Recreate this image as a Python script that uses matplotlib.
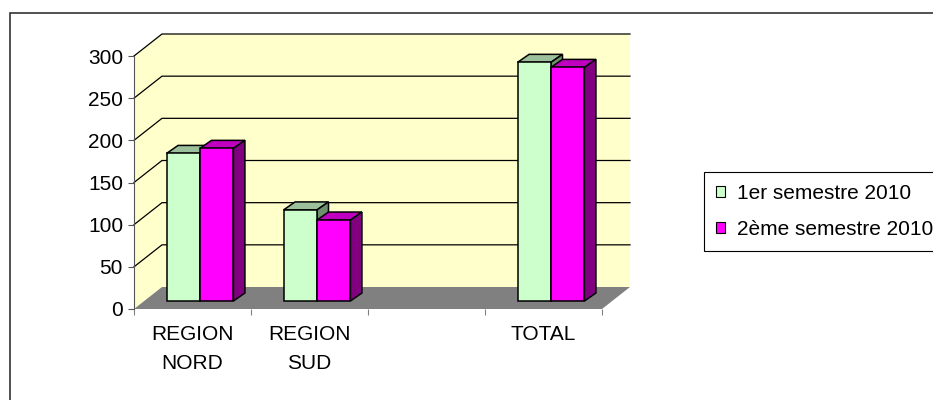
import matplotlib
matplotlib.use("Agg")
import matplotlib.pyplot as plt
from matplotlib.patches import Rectangle, Polygon, Patch
import numpy as np

# ---- data ----
categories = ["REGION\nNORD", "REGION\nSUD", "", "TOTAL"]
series_names = ["1er semestre 2010", "2ème semestre 2010"]
semestre1 = [175, 108, None, 283]
semestre2 = [181, 96, None, 277]
yticks = [0, 50, 100, 150, 200, 250, 300]

# ---- style ----
W, H, DPI = 933, 400, 100
plt.rcParams["font.family"] = ["Liberation Sans", "DejaVu Sans"]
FS = 15
WALL = "#FFFFCC"
FLOOR = "#808080"
COLORS = [("#CCFFCC", "#9CBF9C", "#6E8F6E"),   # front, top, side
          ("#FF00FF", "#C000C0", "#800080")]

fig = plt.figure(figsize=(W / DPI, H / DPI), dpi=DPI)
fig.patch.set_facecolor("white")

# front plane of the 3-D box, in pixels
ax_left, ax_right, ax_top, ax_bottom = 134, 602, 56, 309
ax = fig.add_axes([ax_left / W, (H - ax_bottom) / H,
                   (ax_right - ax_left) / W, (ax_bottom - ax_top) / H])
n = len(categories)
ymax = yticks[-1]
ax.set_xlim(0, n)
ax.set_ylim(0, ymax)
ax.patch.set_visible(False)

px_x = (ax_right - ax_left) / n
px_y = (ax_bottom - ax_top) / ymax


def off(dx_px, dy_px):
    """pixel offset -> data offset"""
    return dx_px / px_x, dy_px / px_y


wx, wy = off(28, 22)      # depth of the walls
fx, fy = off(7.5, 8)      # bars sit a little behind the front plane
dx, dy = off(11.5, 8)     # depth of each bar

# walls
ax.add_patch(Polygon([(wx, wy), (n + wx, wy), (n + wx, ymax + wy), (wx, ymax + wy)],
                     closed=True, fc=WALL, ec="none", zorder=0, clip_on=False))
ax.add_patch(Polygon([(0, 0), (wx, wy), (wx, ymax + wy), (0, ymax)],
                     closed=True, fc=WALL, ec="none", zorder=0, clip_on=False))
for v in yticks[1:]:
    ax.plot([0, wx, n + wx], [v, v + wy, v + wy], color="black", lw=0.9,
            zorder=0.5, clip_on=False)
# floor
ax.add_patch(Polygon([(0, 0), (n, 0), (n + wx, wy), (wx, wy)],
                     closed=True, fc=FLOOR, ec="none", zorder=1, clip_on=False))

# bars
bw = 1 / 3.5
z = 3
for i in range(n):
    for j, vals in enumerate([semestre1, semestre2]):
        v = vals[i]
        if v is None:
            continue
        cf, ct, cs = COLORS[j]
        x0 = i + 0.5 - bw + j * bw + fx
        x1 = x0 + bw
        y0, y1 = fy, fy + v
        ax.add_patch(Polygon([(x0, y1), (x1, y1), (x1 + dx, y1 + dy), (x0 + dx, y1 + dy)],
                             closed=True, fc=ct, ec="black", lw=1.1, zorder=z,
                             clip_on=False, joinstyle="miter"))
        ax.add_patch(Polygon([(x1, y0), (x1 + dx, y0 + dy), (x1 + dx, y1 + dy), (x1, y1)],
                             closed=True, fc=cs, ec="black", lw=1.1, zorder=z,
                             clip_on=False, joinstyle="miter"))
        ax.bar(x0, v, width=bw, bottom=y0, align="edge", color=cf,
               edgecolor="black", linewidth=1.1, zorder=z + 0.5, clip_on=False)
        z += 1

# axes
ax.set_yticks(yticks)
ax.tick_params(axis="y", length=4.3, width=0.8, pad=3.6, labelsize=FS, color="#555555")
ax.set_xticks(range(n + 1))
ax.set_xticklabels([])
ax.set_xticks(np.arange(n) + 0.5, minor=True)
ax.set_xticklabels(categories, minor=True)
ax.tick_params(axis="x", which="major", length=4.3, width=0.8, color="#808080", direction="out")
ax.tick_params(axis="x", which="minor", length=0, pad=11.8, labelsize=FS)
for lab in ax.get_xticklabels(minor=True):
    lab.set_linespacing(1.61)
    lab.set_multialignment("center")
for s in ["top", "right", "bottom"]:
    ax.spines[s].set_visible(False)
ax.spines["left"].set_color("#555555")
ax.spines["left"].set_linewidth(0.8)

# legend
handles = [Patch(fc=COLORS[k][0], ec="black", lw=0.8) for k in range(2)]
leg = fig.legend(handles, series_names, loc="upper left",
                 bbox_to_anchor=(704 / W, (H - 172) / H), bbox_transform=fig.transFigure,
                 frameon=True, fancybox=False, shadow=False, fontsize=FS,
                 handlelength=0.45, handleheight=0.45, handletextpad=0.55,
                 borderpad=0.58, labelspacing=0.8, borderaxespad=0, framealpha=1)
leg.get_frame().set_edgecolor("black")
leg.get_frame().set_linewidth(0.8)

# chart-area border
fig.add_artist(Rectangle((9.5 / W, -0.05), 1.0, (H - 12.5) / H + 0.05,
                         transform=fig.transFigure, fill=False, ec="#333333",
                         lw=1.2, clip_on=False))

fig.savefig("out.png", dpi=DPI)
